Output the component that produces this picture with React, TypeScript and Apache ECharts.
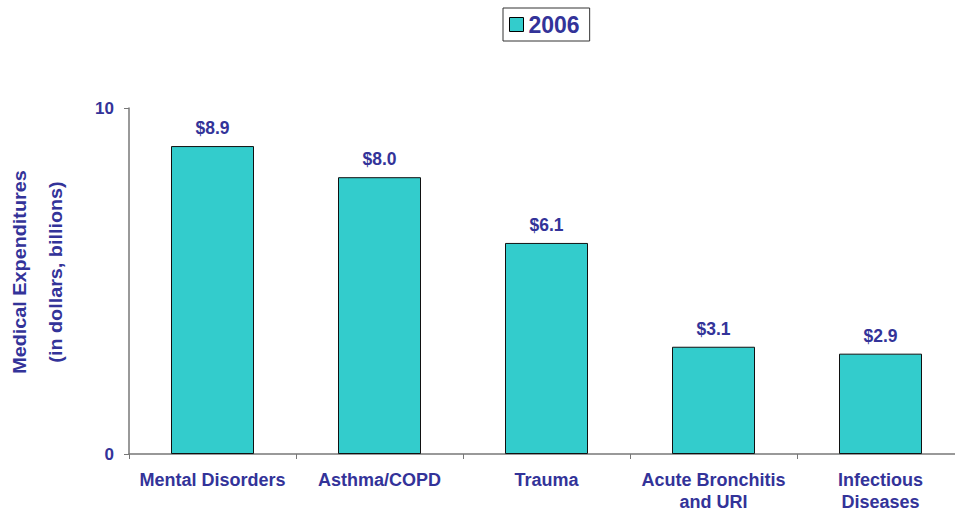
import React, { useEffect, useRef } from "react";
import * as echarts from "echarts";

const categories = ["Mental Disorders", "Asthma/COPD", "Trauma", "Acute Bronchitis\nand URI", "Infectious\nDiseases"];
const values2006 = [8.9, 8.0, 6.1, 3.1, 2.9];
const seriesName = "2006";
const yTitleLines = ["Medical Expenditures", "(in dollars, billions)"];

const TEXT = "#333399";
const FONT = "'Liberation Sans', Arial, sans-serif";

export default function App() {
  const ref = useRef<HTMLDivElement>(null);
  useEffect(() => {
    if (!ref.current) return;
    const chart = echarts.init(ref.current, undefined, { renderer: "svg" });
    chart.setOption({
      animation: false,
      textStyle: { fontFamily: FONT },
      legend: {
        data: [seriesName],
        left: 503,
        top: 8,
        orient: "horizontal",
        borderColor: "#333",
        borderWidth: 1,
        padding: [5, 10, 5, 6],
        itemWidth: 14,
        itemHeight: 14,
        icon: "rect",
        itemStyle: { borderColor: "#000", borderWidth: 1 },
        textStyle: { color: TEXT, fontSize: 23, fontWeight: "bold", fontFamily: FONT },
      },
      grid: { left: 129, top: 108, width: 835, height: 346, containLabel: false },
      xAxis: {
        type: "category",
        data: categories,
        axisLine: { lineStyle: { color: "#777", width: 1.5 } },
        axisTick: { show: true, length: 5, alignWithLabel: false, lineStyle: { color: "#777" } },
        axisLabel: {
          color: TEXT,
          fontSize: 18,
          fontWeight: "bold",
          fontFamily: FONT,
          margin: 15,
          lineHeight: 22,
          interval: 0,
        },
      },
      yAxis: {
        type: "value",
        min: 0,
        max: 10,
        interval: 10,
        splitLine: { show: false },
        axisLine: { show: true, lineStyle: { color: "#777", width: 1.5 } },
        axisTick: { show: true, length: 5, lineStyle: { color: "#777" } },
        axisLabel: { color: TEXT, fontSize: 17, fontWeight: "bold", fontFamily: FONT, margin: 15 },
      },
      graphic: [
        {
          type: "text",
          x: 20,
          y: 272,
          rotation: Math.PI / 2,
          scaleX: 1.1,
          style: {
            text: yTitleLines[0],
            fill: TEXT,
            font: `bold 18px ${FONT}`,
            textAlign: "center",
            textVerticalAlign: "middle",
          },
        },
        {
          type: "text",
          x: 56,
          y: 272,
          rotation: Math.PI / 2,
          scaleX: 1.1,
          style: {
            text: yTitleLines[1],
            fill: TEXT,
            font: `bold 18px ${FONT}`,
            textAlign: "center",
            textVerticalAlign: "middle",
          },
        },
      ],
      series: [
        {
          name: seriesName,
          type: "bar",
          data: values2006,
          barWidth: 83,
          itemStyle: { color: "#33CCCC", borderColor: "#111", borderWidth: 1 },
          label: {
            show: true,
            position: "top",
            distance: 9,
            color: TEXT,
            fontSize: 17.5,
            fontWeight: "bold",
            fontFamily: FONT,
            formatter: (p: any) => "$" + Number(p.value).toFixed(1),
          },
        },
      ],
    });
    return () => chart.dispose();
  }, []);
  return (
    <div style={{ position: "fixed", left: 0, top: 0, width: 955, height: 514, overflow: "hidden", background: "#fff" }}>
      <div ref={ref} style={{ width: 980, height: 514 }} />
    </div>
  );
}
